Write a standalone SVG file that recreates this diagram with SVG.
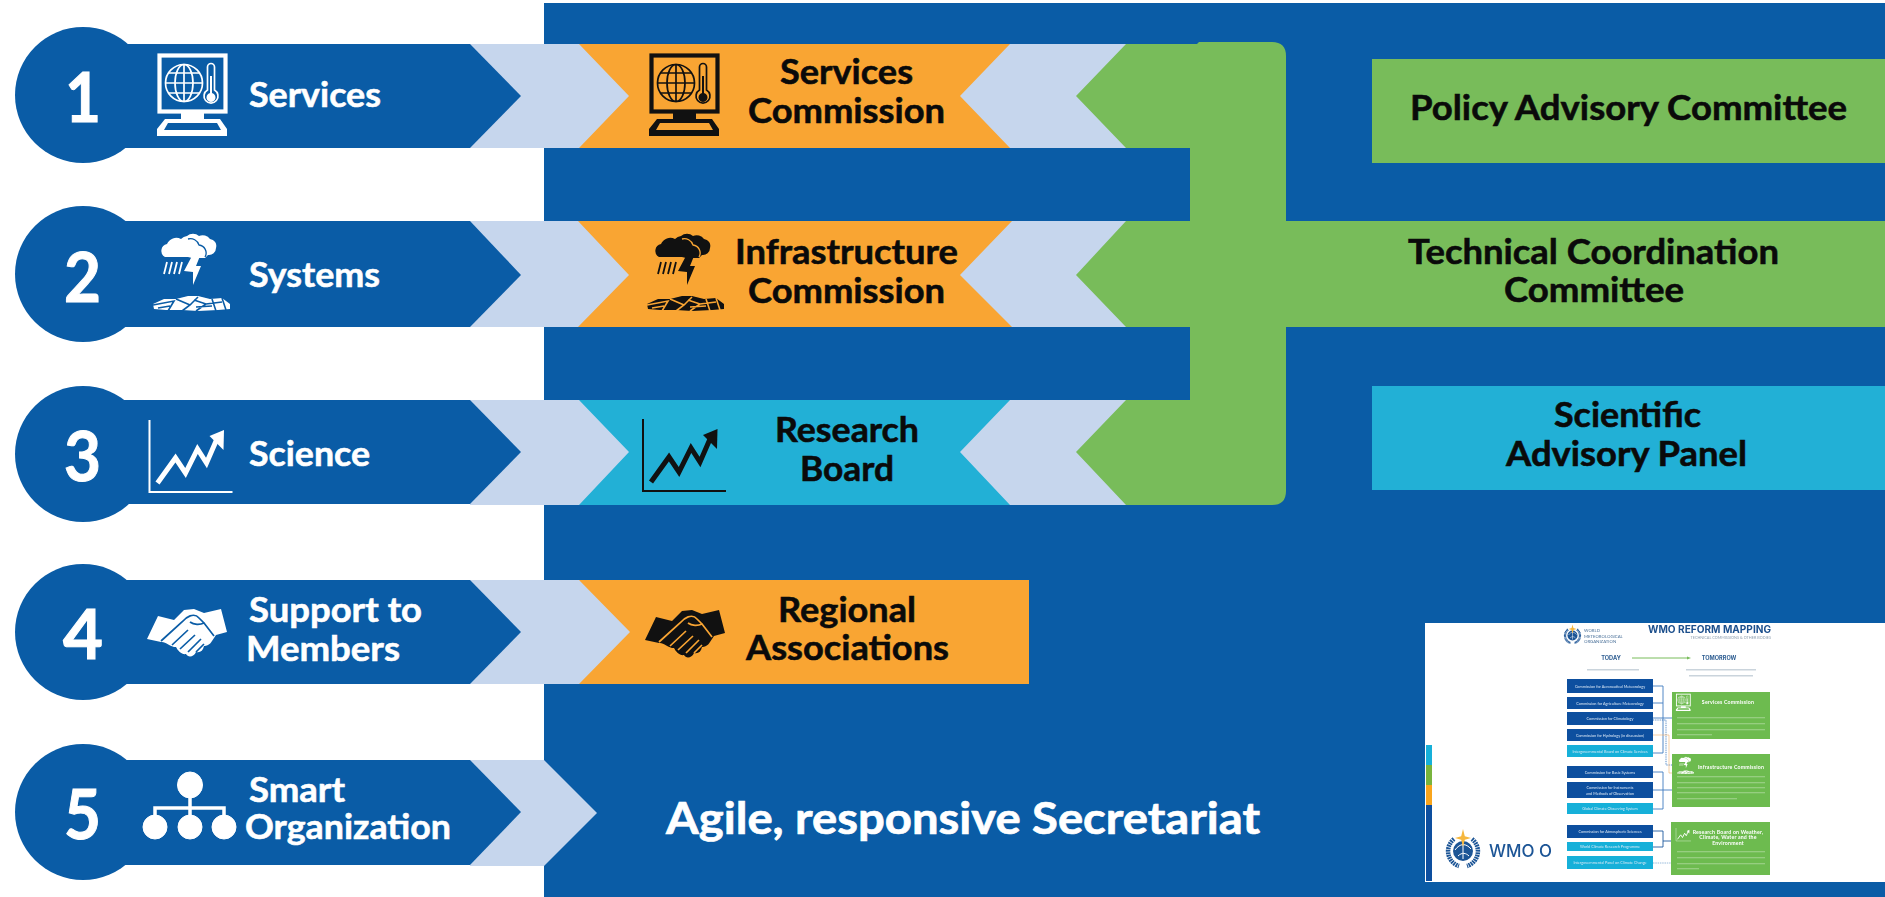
<svg xmlns="http://www.w3.org/2000/svg" width="1885" height="897" viewBox="0 0 1885 897">
<style>
.t{font-family:"Lato","Carlito","Liberation Sans",sans-serif;font-weight:700;font-size:34.5px;stroke-width:.55px}
.w{fill:#fff;stroke:#fff}.k{fill:#0a0a0a;stroke:#0a0a0a}
.n{font-size:68px;stroke-width:1px}
.dark{fill:#0a5ca6}.light{fill:#c6d6ed}.or{fill:#f9a533}.gr{fill:#78bc5a}.cy{fill:#22b0d6}
.iw{color:#fff;--bg:#0a5ca6}.ik{color:#111;--bg:#f9a533}.ic{color:#111;--bg:#22b0d6}.ig{color:#fff;--bg:#6dbb4f}
.sm{font-family:"Lato","Liberation Sans",sans-serif;font-size:3.8px;fill:#dbe8f6;text-anchor:middle}
.gt{font-family:"Lato","Liberation Sans",sans-serif;font-size:5.2px;font-weight:700;fill:#fff;text-anchor:middle;letter-spacing:.2px}
.hd{font-family:"Inter","Liberation Sans",sans-serif;font-weight:700;fill:#2b5b90;text-anchor:middle;font-size:5.6px}
.bd{fill:#0d4f9f}.bc{fill:#12b0d9}.ign{fill:#6dbb4f}
.ln{fill:none;stroke:#3f7cc0;stroke-width:.9}
.bar{fill:#fff;opacity:.28}.bg{fill:#9fb0c0;opacity:.55}
</style>
<defs>
<filter id="soft" x="0" y="0" width="100%" height="100%"><feGaussianBlur stdDeviation=".35"/></filter>
<symbol id="i-monitor" viewBox="0 0 100 100" overflow="visible">
<rect x="11.5" y="5.5" width="66" height="56" fill="none" stroke="currentColor" stroke-width="4.2"/>
<g fill="none" stroke="currentColor" stroke-width="1.7">
<circle cx="36" cy="33" r="18.5"/><ellipse cx="36" cy="33" rx="9" ry="18.5"/><path d="M36 14.5V51.5M18 33H54M20.500 23H51.500M20.500 43H51.500"/>
<path d="M59.500 40V17a3.500 3.500 0 0 1 7 0V40a7 7 0 1 1-7 0Z"/>
</g>
<path d="M62 26h2v17a4.500 4.500 0 1 1-2 0Z" fill="currentColor"/>
<path d="M33 63H56V69H72L79 79V86H9V79L17 69H33ZM20 73L16 80H73L69 73Z" fill="currentColor" fill-rule="evenodd"/>
</symbol>
<symbol id="i-storm" viewBox="0 0 100 100" overflow="visible">
<path fill="currentColor" d="M19 32a7 7 0 0 1 2-13 10 10 0 0 1 14-5 10 10 0 0 1 6-3 9 9 0 0 1 12 0 9 9 0 0 1 11 3 7 7 0 0 1 6 9 7 7 0 0 1-8 7l-3 3H46l-4-1Z"/>
<path fill="none" stroke="var(--bg)" stroke-width="1.3" d="M42 14a9 9 0 0 1 11 6 8 8 0 0 1 6 12"/>
<path fill="currentColor" d="M46 31H54L50 41H55L47 60 47 47 38 46Z"/>
<path fill="none" stroke="currentColor" stroke-width="1.8" d="M21 37L18 49M26 37L23 49M31 37L28 49M36 37L33 49"/>
<path fill="currentColor" d="M7 79L18 74 30 74 42 71 52 71 64 74 76 73 84 79 84 84 72 85 52 86 36 85 20 85 8 84Z"/>
<path fill="none" stroke="var(--bg)" stroke-width="1.6" d="M7 80L28 76 22 86M30 74L44 80 36 86M44 80L52 72M48 75L60 79 50 86M60 79L76 77M66 74L70 86M76 73L80 85M12 83L24 81M50 82L66 81"/>
</symbol>
<symbol id="i-chart" viewBox="0 0 100 100" overflow="visible">
<path d="M0 0V72H83" fill="none" stroke="currentColor" stroke-width="2"/>
<polyline points="8,63 26,38 36,53 48,29 57,43 67,20" fill="none" stroke="currentColor" stroke-width="5"/>
<polygon points="74.500,10 60,16 74,30" fill="currentColor"/>
</symbol>
<symbol id="i-hands" viewBox="0 0 110 90" overflow="visible">
<path fill="currentColor" d="M15 50L26 27 42 31 52 21 62 20 72 24 89 20 95 43 84 46 80 52C78 56 74 57 72 57 71 62 68 64 64 63 62 68 56 69 54 65 50 66 46 62 44 58 38 58 33 52 29 53Z"/>
<path fill="none" stroke="var(--bg)" stroke-width="1.700" d="M29 52L50 33C54 28 62 23 67 29L72 34C68 36 62 36 58 33M40 56L56 41M48 60L63 46M56 63L69 50M72 34L82 47M64 63L72 55"/>
</symbol>
<symbol id="i-emblem" viewBox="-19 -22 38 40" overflow="visible">
<path d="M-9-11A15.500 15.500 0 0 0-4 16M9-11A15.500 15.500 0 0 1 4 16" fill="none" stroke="#1d5596" stroke-width="4.500" stroke-dasharray="1.800 .7"/>
<circle r="10" cy="1" fill="#1d5596"/>
<path d="M-8 0C-3-7 3-7 8-1M-5 6C-1 2 3 3 6 6M0-8V9" fill="none" stroke="#fff" stroke-width="1"/>
<polygon points="0,-21 1.800,-13.800 8,-12 1.800,-10.200 0,-3 -1.800,-10.200 -8,-12 -1.800,-13.800" fill="#f6b73c"/>
</symbol>
</defs>

<rect width="1885" height="897" fill="#fff"/>
<rect id="panel" x="544" y="3" width="1341" height="894" class="dark"/>

<g id="light-bands" class="light">
<rect x="470" y="44" width="660" height="104"/>
<rect x="470" y="221" width="660" height="106"/>
<rect x="470" y="400" width="660" height="105"/>
<rect x="470" y="580" width="170" height="104"/>
<polygon points="470,760 544,760 597,813 544,866 470,866"/>
</g>

<g id="green-spine"><path class="gr" d="M1126 44H1197L1199 42H1272Q1286 42 1286 56V221H1885V327H1286V491Q1286 505 1272 505H1126L1076 452 1126 400H1190V327H1126L1076 275 1126 221H1190V148H1126L1076 96Z"/></g>

<g id="pillar-1">
<circle cx="83" cy="95" r="68" class="dark"/><polygon class="dark" points="83,44 470,44 521,96 470,148 83,148"/>
<text class="t n w" x="65" y="122" textLength="36" lengthAdjust="spacingAndGlyphs">1</text>
<use href="#i-monitor" class="iw" x="148" y="50" width="100" height="100"/>
<text class="t w" x="249" y="107" textLength="132" lengthAdjust="spacingAndGlyphs">Services</text>
</g>
<g id="pillar-2">
<circle cx="83" cy="274" r="68" class="dark"/><polygon class="dark" points="83,221 470,221 521,275 470,327 83,327"/>
<text class="t n w" x="64" y="302" textLength="37" lengthAdjust="spacingAndGlyphs">2</text>
<use href="#i-storm" class="iw" x="146" y="225" width="100" height="100"/>
<text class="t w" x="249" y="287" textLength="131" lengthAdjust="spacingAndGlyphs">Systems</text>
</g>
<g id="pillar-3">
<circle cx="83" cy="454" r="68" class="dark"/><polygon class="dark" points="83,400 470,400 521,452 470,504 83,504"/>
<text class="t n w" x="64" y="481" textLength="37" lengthAdjust="spacingAndGlyphs">3</text>
<use href="#i-chart" class="iw" x="149.500" y="420" width="100" height="100"/>
<text class="t w" x="249" y="466" textLength="121" lengthAdjust="spacingAndGlyphs">Science</text>
</g>
<g id="pillar-4">
<circle cx="83" cy="632" r="68" class="dark"/><polygon class="dark" points="83,580 470,580 521,632 470,684 83,684"/>
<text class="t n w" x="63" y="659" textLength="40" lengthAdjust="spacingAndGlyphs">4</text>
<use href="#i-hands" class="iw" x="132" y="589" width="110" height="90"/>
<text class="t w" x="249" y="622" textLength="173" lengthAdjust="spacingAndGlyphs">Support to</text>
<text class="t w" x="246" y="661" textLength="154" lengthAdjust="spacingAndGlyphs">Members</text>
</g>
<g id="pillar-5">
<circle cx="83" cy="812" r="68" class="dark"/><polygon class="dark" points="83,760 470,760 521,812 470,865 83,865"/>
<text class="t n w" x="64" y="839" textLength="37" lengthAdjust="spacingAndGlyphs">5</text>
<g fill="#fff" stroke="#fff"><ellipse cx="190" cy="785" rx="12.500" ry="13"/><circle cx="155" cy="827" r="12"/><circle cx="190" cy="827" r="12"/><circle cx="224" cy="827" r="12"/><path d="M190 790V827M155 827V808H224V827" fill="none" stroke-width="3.500"/></g>
<text class="t w" x="249" y="802" textLength="96" lengthAdjust="spacingAndGlyphs">Smart</text>
<text class="t w" x="245" y="839" textLength="206" lengthAdjust="spacingAndGlyphs">Organization</text>
</g>

<g id="services-commission">
<polygon class="or" points="579,44 1010,44 960,96 1010,148 579,148 629,96"/>
<use href="#i-monitor" class="ik" x="640" y="50" width="100" height="100"/>
<text class="t k" x="780" y="84" textLength="133" lengthAdjust="spacingAndGlyphs">Services</text>
<text class="t k" x="748" y="123" textLength="197" lengthAdjust="spacingAndGlyphs">Commission</text>
</g>
<g id="infrastructure-commission">
<polygon class="or" points="578,221 1012,221 960,275 1012,327 578,327 629,275"/>
<use href="#i-storm" class="ik" x="640" y="225" width="100" height="100"/>
<text class="t k" x="735" y="264" textLength="223" lengthAdjust="spacingAndGlyphs">Infrastructure</text>
<text class="t k" x="748" y="303" textLength="197" lengthAdjust="spacingAndGlyphs">Commission</text>
</g>
<g id="research-board">
<polygon class="cy" points="579,400 1010,400 960,452 1010,505 579,505 629,452"/>
<use href="#i-chart" class="ic" x="643" y="419" width="100" height="100"/>
<text class="t k" x="775" y="442" textLength="144" lengthAdjust="spacingAndGlyphs">Research</text>
<text class="t k" x="800" y="481" textLength="94" lengthAdjust="spacingAndGlyphs">Board</text>
</g>
<g id="regional-associations">
<polygon class="or" points="579,580 1029,580 1029,684 579,684 630,632"/>
<use href="#i-hands" class="ik" x="630" y="590" width="110" height="90"/>
<text class="t k" x="778" y="622" textLength="138" lengthAdjust="spacingAndGlyphs">Regional</text>
<text class="t k" x="746" y="660" textLength="203" lengthAdjust="spacingAndGlyphs">Associations</text>
</g>
<g id="secretariat">
<text class="t w" style="font-size:44px;stroke-width:.7px" x="666" y="834" textLength="594" lengthAdjust="spacingAndGlyphs">Agile, responsive Secretariat</text>
</g>

<g id="policy-advisory-committee">
<rect x="1372" y="59" width="513" height="104" class="gr"/>
<text class="t k" x="1410" y="120" textLength="437" lengthAdjust="spacingAndGlyphs">Policy Advisory Committee</text>
</g>
<g id="technical-coordination-committee">
<text class="t k" x="1408" y="264" textLength="371" lengthAdjust="spacingAndGlyphs">Technical Coordination</text>
<text class="t k" x="1504" y="302" textLength="180" lengthAdjust="spacingAndGlyphs">Committee</text>
</g>
<g id="scientific-advisory-panel">
<rect x="1372" y="386" width="513" height="104" class="cy"/>
<text class="t k" x="1554" y="427" textLength="147" lengthAdjust="spacingAndGlyphs">Scientific</text>
<text class="t k" x="1506" y="466" textLength="241" lengthAdjust="spacingAndGlyphs">Advisory Panel</text>
</g>

<g id="inset" filter="url(#soft)">
<rect x="1425" y="623" width="460" height="259" fill="#fff"/>
<rect x="1426" y="745" width="6" height="20" fill="#12b0d9"/><rect x="1426" y="765" width="6" height="20" fill="#78b43c"/><rect x="1426" y="785" width="6" height="20" fill="#f9a51a"/><rect x="1426" y="805" width="6" height="76" fill="#0d4f9f"/>
<use href="#i-emblem" x="1444" y="828" width="38" height="40"/>
<text x="1489" y="857" font-family="Inter,'Liberation Sans',sans-serif" font-weight="500" font-size="17" fill="#1d5596" textLength="63" lengthAdjust="spacingAndGlyphs">WMO O</text>

<use href="#i-emblem" x="1563" y="624" width="19" height="20"/>
<g font-family="Lato,'Liberation Sans',sans-serif" font-size="4.300" fill="#4a7099"><text x="1584" y="632">WORLD</text><text x="1584" y="637.500">METEOROLOGICAL</text><text x="1584" y="642.500">ORGANIZATION</text></g>
<text x="1648" y="633" font-family="Inter,'Liberation Sans',sans-serif" font-weight="700" font-size="10" fill="#1d4f8c" textLength="123" lengthAdjust="spacingAndGlyphs">WMO REFORM MAPPING</text>
<text x="1771" y="639" text-anchor="end" font-family="Lato,'Liberation Sans',sans-serif" font-size="3.800" fill="#8fa0b0">TECHNICAL COMMISSIONS &amp; OTHER BODIES</text>
<text class="hd" x="1611" y="660">TODAY</text><text class="hd" x="1719" y="660">TOMORROW</text>
<rect class="bg" x="1587" y="669" width="52" height="1.500"/><rect class="bg" x="1686" y="669" width="70" height="1.500"/><rect class="bg" x="1689" y="675" width="64" height="1.500"/>

<g id="inset-boxes">
<rect class="bd" x="1567" y="679" width="86" height="14"/><text class="sm" x="1610" y="687.500">Commission for Aeronautical Meteorology</text>
<rect class="bd" x="1567" y="697" width="86" height="12"/><text class="sm" x="1610" y="704.500">Commission for Agriculture Meteorology</text>
<rect class="bd" x="1567" y="712" width="86" height="13"/><text class="sm" x="1610" y="720">Commission for Climatology</text>
<rect class="bd" x="1567" y="729" width="86" height="12"/><text class="sm" x="1610" y="736.500">Commission for Hydrology (in discussion)</text>
<rect class="bc" x="1567" y="745" width="86" height="12"/><text class="sm" x="1610" y="752.500">Intergovernmental Board on Climate Services</text>
<rect class="bd" x="1567" y="766" width="86" height="12"/><text class="sm" x="1610" y="773.500">Commission for Basic Systems</text>
<rect class="bd" x="1567" y="782" width="86" height="16"/><text class="sm" x="1610" y="789">Commission for Instruments</text><text class="sm" x="1610" y="794.500">and Methods of Observation</text>
<rect class="bc" x="1567" y="803" width="86" height="11"/><text class="sm" x="1610" y="810">Global Climate Observing System</text>
<rect class="bd" x="1567" y="825" width="86" height="13"/><text class="sm" x="1610" y="832.500">Commission for Atmospheric Sciences</text>
<rect class="bc" x="1567" y="842" width="86" height="9"/><text class="sm" x="1610" y="848">World Climate Research Programme</text>
<rect class="bc" x="1567" y="856" width="86" height="13"/><text class="sm" x="1610" y="864">Intergovernmental Panel on Climate Change</text>
</g>
<g id="connectors">
<path class="ln" d="M1653 686H1663V753H1653M1653 703H1663M1653 718H1672"/>
<path class="ln" stroke-dasharray="1 .8" d="M1653 720H1666V765H1672"/>
<path class="ln" style="stroke:#f2b06a;stroke-width:.6" d="M1653 735H1669V773H1672"/>
<path class="ln" d="M1653 772H1663V809H1653M1653 790H1672"/>
<path class="ln" style="stroke:#1d5a9e" d="M1653 831H1663V847H1653M1663 841H1671"/>
<path class="ln" stroke-dasharray="1.500 .8" style="stroke:#8fb4d8" d="M1653 863H1671"/>
<path fill="none" stroke="#78bc5a" stroke-width="1" d="M1632 658H1688"/><polygon points="1691,658 1687,656.500 1687,659.500" fill="#78bc5a"/>
</g>
<g id="inset-green">
<rect class="ign" x="1672" y="692" width="98" height="47"/>
<use href="#i-monitor" class="ig" x="1674" y="693" width="21" height="21"/>
<text class="gt" x="1728" y="704">Services Commission</text>
<g class="bar"><rect x="1677" y="717" width="88" height="1.300"/><rect x="1677" y="723" width="88" height="1.300"/><rect x="1677" y="729" width="88" height="1.300"/><rect x="1677" y="734" width="35" height="1.300"/></g>
<rect class="ign" x="1672" y="754" width="98" height="53"/>
<use href="#i-storm" class="ig" x="1675.500" y="755" width="22" height="22"/>
<text class="gt" x="1731" y="768.500">Infrastructure Commission</text>
<g class="bar"><rect x="1677" y="776" width="88" height="1.300"/><rect x="1677" y="782" width="88" height="1.300"/><rect x="1677" y="787" width="88" height="1.300"/><rect x="1677" y="792" width="88" height="1.300"/><rect x="1677" y="798" width="60" height="1.300"/></g>
<rect class="ign" x="1671" y="822" width="99" height="53"/>
<use href="#i-chart" class="ig" x="1676" y="828" width="18" height="18"/>
<text class="gt" x="1728" y="833.500">Research Board on Weather,</text><text class="gt" x="1728" y="839">Climate, Water and the</text><text class="gt" x="1728" y="844.500">Environment</text>
<g class="bar"><rect x="1677" y="851" width="88" height="1.300"/><rect x="1677" y="857" width="88" height="1.300"/><rect x="1677" y="863" width="88" height="1.300"/><rect x="1677" y="868" width="22" height="1.300"/></g>
</g>
</g>
</svg>
